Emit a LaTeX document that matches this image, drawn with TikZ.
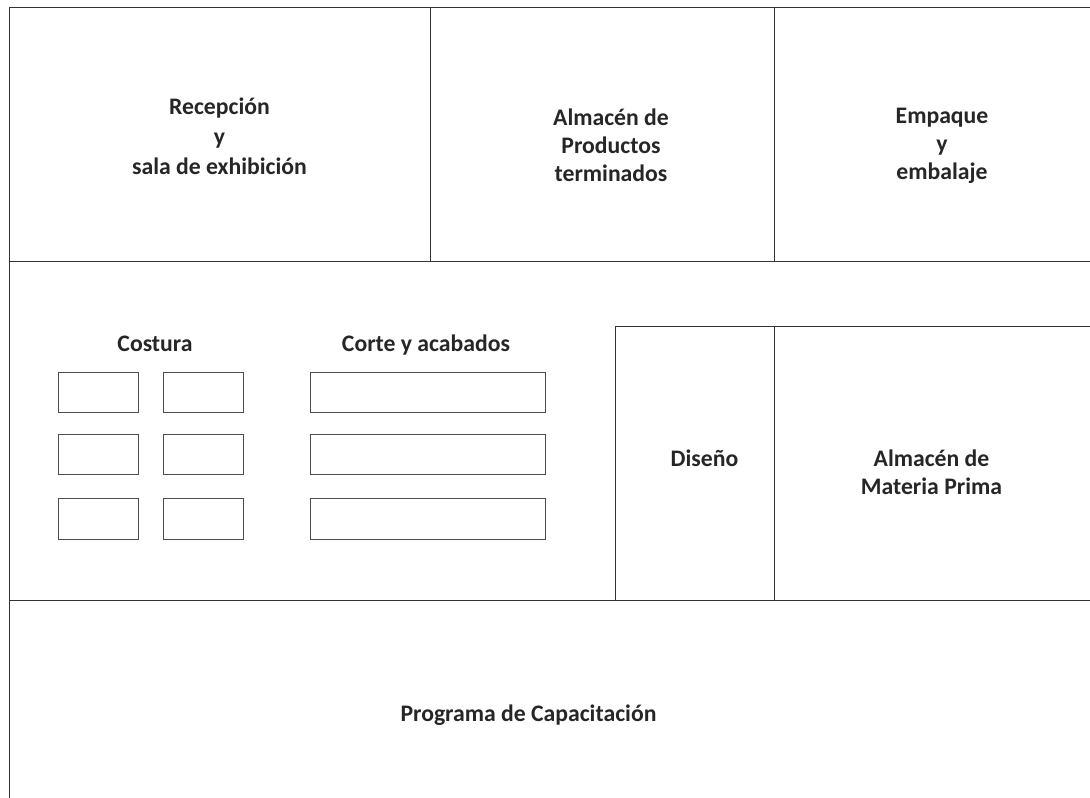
\documentclass[tikz,border=0pt]{standalone}
\usepackage{fontspec}
\setmainfont{Carlito}
\tikzset{
	room/.style = {font=\fontsize{23.7}{28}\selectfont\bfseries, align=center, text=black!85},
	wall/.style = {line width=0.9pt, black!80},
	bench/.style = {draw=black!70, line width=0.8pt}
}
\begin{document}
\begin{tikzpicture}[x=1pt, y=-1pt]
	\useasboundingbox (0,0) rectangle (1090,798);

	\draw[wall] (1090,7) -- (9,7) -- (9,798);
	\draw[wall] (9,261) -- (1090,261);
	\draw[wall] (430,7) -- (430,261);
	\draw[wall] (774,7) -- (774,261);
	\draw[wall] (1090,326) -- (615,326) -- (615,600);
	\draw[wall] (774,326) -- (774,600);
	\draw[wall] (9,600) -- (1090,600);

	\foreach \top/\bot in {372/412, 434/474, 498/539}
	{
		\draw[bench] (58,\top) rectangle (138.5,\bot);
		\draw[bench] (163,\top) rectangle (243,\bot);
		\draw[bench] (310,\top) rectangle (545,\bot);
	}

	\node[room, font=\fontsize{23.7}{30}\selectfont\bfseries] (recepcion) at (219.5,136) {Recepción\\y\\sala de exhibición};
	\node[room] (terminados) at (611,145) {Almacén de\\Productos\\terminados};
	\node[room] (empaque) at (942,145.5) {Empaque\\y\\embalaje};
	\node[room, anchor=base] (costura) at (155,351) {Costura};
	\node[room, anchor=base] (corte) at (426,351) {Corte y acabados};
	\node[room, anchor=base] (diseno) at (704.5,466) {Diseño};
	\node[room] (materia) at (931.5,472) {Almacén de\\Materia Prima};
	\node[room, anchor=base] (programa) at (528.5,721) {Programa de Capacitación};
\end{tikzpicture}
\end{document}
